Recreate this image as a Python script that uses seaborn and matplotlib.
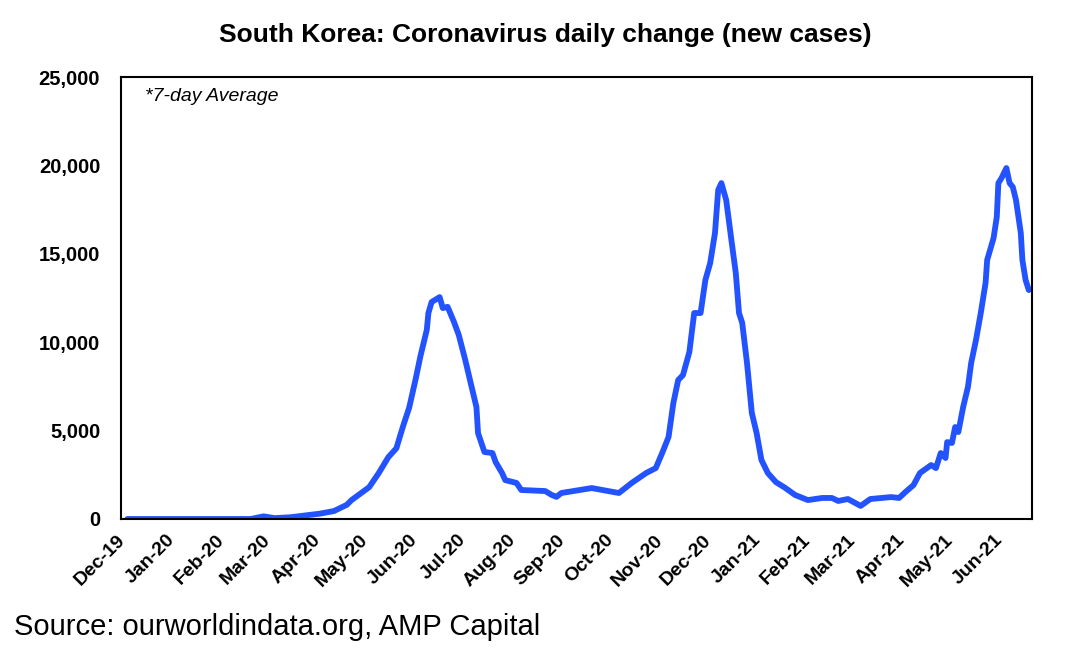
import matplotlib
matplotlib.use("Agg")
import matplotlib.pyplot as plt
import matplotlib.dates as mdates
import matplotlib.ticker as mticker
import matplotlib.transforms as mtransforms
import seaborn as sns
import pandas as pd

title = "South Korea: Coronavirus daily change (new cases)"
source = "Source: ourworldindata.org, AMP Capital"
note = "*7-day Average"

dates = [
    "2019-12-01", "2020-02-16", "2020-02-24", "2020-03-02", "2020-03-12", "2020-03-30",
    "2020-04-08", "2020-04-16", "2020-04-19", "2020-04-30", "2020-05-06", "2020-05-12",
    "2020-05-17", "2020-05-21", "2020-05-25", "2020-05-29", "2020-06-01", "2020-06-05",
    "2020-06-06", "2020-06-08", "2020-06-13", "2020-06-15", "2020-06-18", "2020-06-22",
    "2020-06-25", "2020-06-29", "2020-07-03", "2020-07-06", "2020-07-07", "2020-07-11",
    "2020-07-16", "2020-07-18", "2020-07-22", "2020-07-24", "2020-07-31", "2020-08-03",
    "2020-08-18", "2020-08-22", "2020-08-25", "2020-08-28", "2020-09-16", "2020-10-03",
    "2020-10-11", "2020-10-20", "2020-10-26", "2020-10-30", "2020-11-03", "2020-11-06",
    "2020-11-09", "2020-11-12", "2020-11-16", "2020-11-19", "2020-11-23", "2020-11-26",
    "2020-11-29", "2020-12-02", "2020-12-04", "2020-12-06", "2020-12-09", "2020-12-12",
    "2020-12-15", "2020-12-17", "2020-12-19", "2020-12-22", "2020-12-25", "2020-12-28",
    "2020-12-31", "2021-01-04", "2021-01-09", "2021-01-15", "2021-01-21", "2021-01-29",
    "2021-02-07", "2021-02-13", "2021-02-17", "2021-02-23", "2021-03-03", "2021-03-09",
    "2021-03-22", "2021-03-27", "2021-03-31", "2021-04-05", "2021-04-09", "2021-04-16",
    "2021-04-19", "2021-04-22", "2021-04-25", "2021-04-26", "2021-04-29", "2021-05-01",
    "2021-05-03", "2021-05-06", "2021-05-09", "2021-05-11", "2021-05-14", "2021-05-17",
    "2021-05-20", "2021-05-21", "2021-05-25", "2021-05-27", "2021-05-28", "2021-05-30",
    "2021-06-02", "2021-06-04", "2021-06-06", "2021-06-08", "2021-06-11", "2021-06-12",
    "2021-06-14", "2021-06-16",
]
new_cases = [
    0, 0, 150, 50, 100, 300,
    450, 800, 1070, 1800, 2600, 3500,
    4000, 5200, 6300, 7900, 9200, 10700,
    11650, 12270, 12550, 11930, 12000, 11140,
    10400, 9000, 7470, 6330, 4860, 3790,
    3730, 3220, 2600, 2200, 2040, 1640,
    1580, 1360, 1250, 1470, 1750, 1470,
    2040, 2600, 2880, 3730, 4640, 6560,
    7860, 8140, 9450, 11650, 11650, 13520,
    14480, 16180, 18610, 19000, 18040, 15950,
    13910, 11650, 11090, 8820, 6000, 4860,
    3340, 2600, 2090, 1750, 1360, 1070,
    1190, 1190, 1020, 1130, 740, 1130,
    1240, 1190, 1530, 1920, 2600, 3050,
    2880, 3730, 3450, 4350, 4300, 5200,
    4920, 6330, 7470, 8820, 10120, 11650,
    13350, 14650, 15890, 17080, 19000, 19290,
    19850, 19000, 18780, 18040, 16180, 14650,
    13520, 12950,
]

df = pd.DataFrame({"date": pd.to_datetime(dates), "cases": new_cases})

sns.set_style("white")
plt.rcParams["font.family"] = ["Liberation Sans", "DejaVu Sans"]
plt.rcParams["text.color"] = "black"
plt.rcParams["xtick.color"] = "black"
plt.rcParams["ytick.color"] = "black"
plt.rcParams["axes.labelcolor"] = "black"

fig = plt.figure(figsize=(10.69, 6.56), dpi=100)
ax = fig.add_axes([121 / 1069, 1 - 519 / 656, (1032 - 121) / 1069, (519 - 77) / 656])

sns.lineplot(data=df, x="date", y="cases", ax=ax, color="#2253FF", linewidth=4.2)

ax.set_xlim(pd.Timestamp("2019-11-27"), pd.Timestamp("2021-06-18"))
ax.set_ylim(0, 25000)
ax.set_xlabel("")
ax.set_ylabel("")

ax.yaxis.set_major_locator(mticker.MultipleLocator(5000))
ax.yaxis.set_major_formatter(mticker.FuncFormatter(lambda v, p: f"{int(v):,}"))
ax.xaxis.set_major_locator(mdates.MonthLocator())
ax.xaxis.set_major_formatter(mdates.DateFormatter("%b-%y"))

ax.tick_params(axis="y", length=0, pad=15, labelsize=14.5, labelcolor="black")
ax.tick_params(axis="x", length=0, pad=9, labelsize=14, labelcolor="black")
shift = mtransforms.ScaledTranslation(-11 / 100, 0, fig.dpi_scale_trans)
for lbl in ax.get_yticklabels():
    lbl.set_fontweight("bold")
for lbl in ax.get_xticklabels():
    lbl.set_fontweight("bold")
    lbl.set_rotation(45)
    lbl.set_ha("right")
    lbl.set_rotation_mode("anchor")
    lbl.set_transform(lbl.get_transform() + shift)

for sp in ax.spines.values():
    sp.set_visible(True)
    sp.set_color("black")
    sp.set_linewidth(1.5)

ax.text(0.026, 0.955, note, transform=ax.transAxes, fontsize=14, style="italic",
        ha="left", va="center", color="black")

fig.text(545 / 1069, 1 - 35 / 656, title, fontsize=19, fontweight="bold",
         ha="center", va="center", color="black")
fig.text(14 / 1069, 1 - 627 / 656, source, fontsize=21, ha="left", va="center",
         color="black")

fig.savefig("out.png", dpi=100)
